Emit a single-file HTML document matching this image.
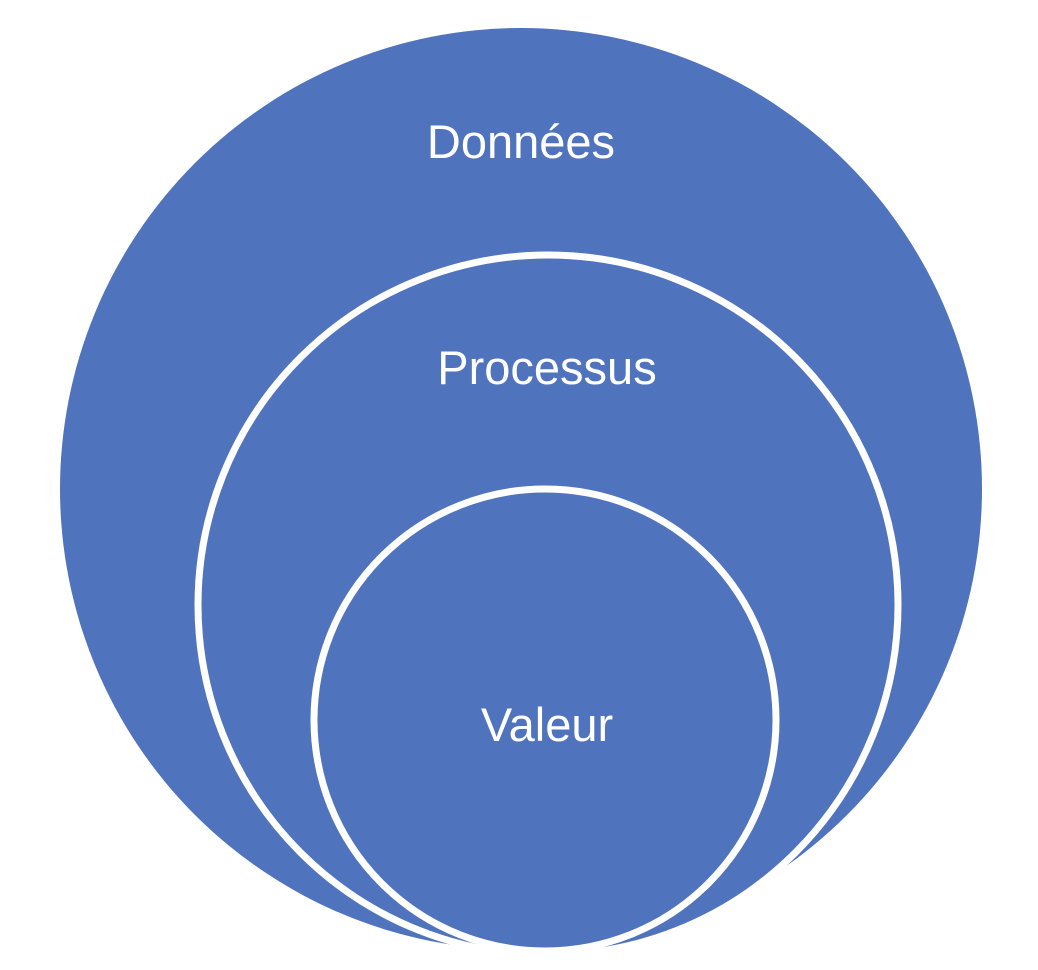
<!DOCTYPE html>
<html><head><style>html,body{margin:0;padding:0;background:#fff;}</style></head>
<body>
<svg width="1038" height="970" xmlns="http://www.w3.org/2000/svg" style="display:block">
<circle cx="521" cy="489" r="461" fill="#5073BE"/>
<circle cx="548" cy="605" r="350" fill="#5073BE" stroke="#fff" stroke-width="7"/>
<circle cx="545" cy="720" r="231" fill="#5073BE" stroke="#fff" stroke-width="7"/>
<g font-family="'Liberation Sans', sans-serif" font-size="47" fill="#fff" text-anchor="middle">
<text x="521" y="158">Données</text>
<text x="547" y="384">Processus</text>
<text x="547" y="741">Valeur</text>
</g>
</svg>
</body></html>
